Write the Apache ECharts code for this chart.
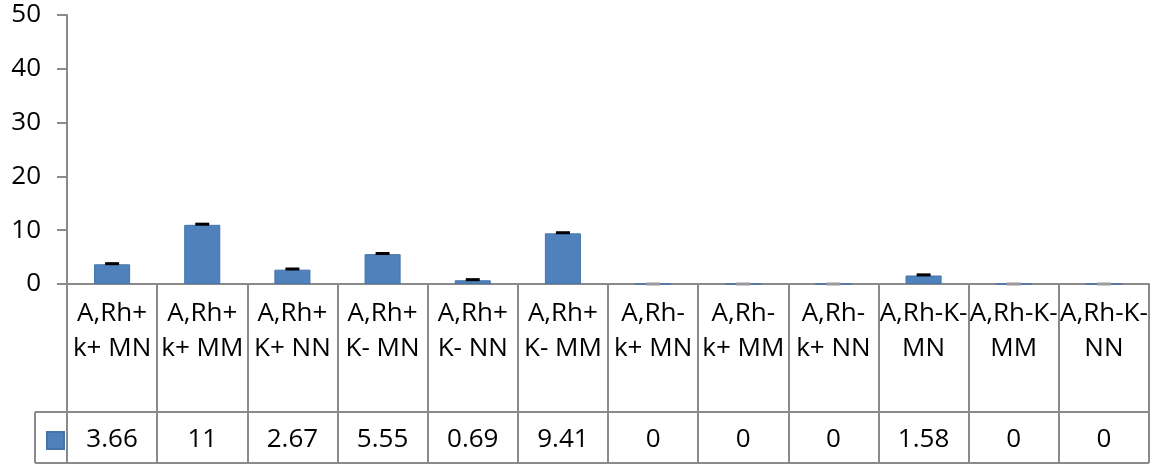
<!DOCTYPE html>
<html>
<head>
<meta charset="utf-8">
<script src="https://cdn.jsdelivr.net/npm/echarts@6/dist/echarts.min.js"></script>
<style>
  html, body { margin: 0; padding: 0; background: #fff; }
  #chart { width: 1156px; height: 465px; }
</style>
</head>
<body>
<div id="chart"></div>
<script>
// Phenotype groups (two-line labels as printed in the table header row)
const categories = [
  'A,Rh+\nk+ MN', 'A,Rh+\nk+ MM', 'A,Rh+\nK+ NN', 'A,Rh+\nK- MN',
  'A,Rh+\nK- NN', 'A,Rh+\nK- MM', 'A,Rh-\nk+ MN', 'A,Rh-\nk+ MM',
  'A,Rh-\nk+ NN', 'A,Rh-K-\nMN', 'A,Rh-K-\nMM', 'A,Rh-K-\nNN'
];
// Percentages per group
const values = [3.66, 11, 2.67, 5.55, 0.69, 9.41, 0, 0, 0, 1.58, 0, 0];
// Error half-widths
const errors = [0.12, 0.12, 0.12, 0.12, 0.12, 0.12, 0, 0, 0, 0.12, 0, 0];
// Value-axis ticks
const yTicks = [0, 10, 20, 30, 40, 50];

const FONT = '"Open Sans", sans-serif';
const FS = 26;
const TEXT = '#000';
const GRID = { left: 67, right: 7, top: 15, bottom: 181 };
const HEADER_H = 128;   // category label row
const VALUE_H = 51;     // data row
const KEY_CELL_W = 32;  // legend-key cell left of the data row
const LINE = '#8a8a8a';

const chart = echarts.init(document.getElementById('chart'));

const W = 1156, H = 465;
const axisY = H - GRID.bottom;
const rowY = axisY + HEADER_H;
const bottomY = rowY + VALUE_H;
const leftX = GRID.left - KEY_CELL_W;
const rightX = W - GRID.right;

chart.setOption({
  animation: false,
  grid: GRID,
  legend: {
    data: ['Series 1'],
    left: leftX + 11,
    top: rowY + 19,
    itemWidth: 17,
    itemHeight: 17,
    icon: 'rect',
    formatter: () => '',
    itemGap: 0,
    padding: 0,
    selectedMode: false
  },
  xAxis: [
    {
      type: 'category',
      data: categories,
      axisLine: { lineStyle: { color: LINE, width: 2 } },
      axisTick: { show: true, length: HEADER_H, lineStyle: { color: LINE, width: 2 } },
      axisLabel: {
        interval: 0, margin: 12, fontFamily: FONT, fontSize: FS,
        lineHeight: 35, color: TEXT
      }
    },
    {
      type: 'category',
      data: values.map(String),
      position: 'bottom',
      offset: HEADER_H,
      axisLine: { lineStyle: { color: LINE, width: 2 } },
      axisTick: { show: true, length: VALUE_H, lineStyle: { color: LINE, width: 2 } },
      axisLabel: {
        interval: 0, margin: 15, fontFamily: FONT, fontSize: FS, color: TEXT
      }
    }
  ],
  yAxis: {
    type: 'value',
    min: yTicks[0],
    max: yTicks[yTicks.length - 1],
    interval: yTicks[1] - yTicks[0],
    splitLine: { show: false },
    axisLine: { show: true, lineStyle: { color: LINE, width: 2 } },
    axisTick: { show: true, length: 10, lineStyle: { color: LINE, width: 2 } },
    axisLabel: { margin: 26, fontFamily: FONT, fontSize: FS, color: TEXT }
  },
  graphic: [
    { type: 'line', shape: { x1: leftX, y1: rowY, x2: GRID.left, y2: rowY },
      style: { stroke: LINE, lineWidth: 2 } },
    { type: 'line', shape: { x1: leftX, y1: bottomY, x2: rightX, y2: bottomY },
      style: { stroke: LINE, lineWidth: 2 } },
    { type: 'line', shape: { x1: leftX, y1: rowY, x2: leftX, y2: bottomY },
      style: { stroke: LINE, lineWidth: 2 } }
  ],
  series: [
    {
      name: 'Series 1',
      type: 'bar',
      data: values,
      barWidth: '40%',
      itemStyle: { color: '#4f81bd', borderColor: '#4674ab', borderWidth: 1 }
    },
    {
      type: 'custom',
      data: values.map((v, i) => [i, v, errors[i]]),
      z: 5,
      renderItem(params, api) {
        const i = api.value(0), v = api.value(1), e = api.value(2);
        const top = api.coord([i, v + e]);
        const bot = api.coord([i, Math.max(0, v - e)]);
        const half = 7;
        const capColor = v > 0 ? '#000' : '#9a9a9a';
        return {
          type: 'group',
          children: [
            { type: 'line', shape: { x1: top[0], y1: top[1], x2: bot[0], y2: bot[1] },
              style: { stroke: capColor, lineWidth: 1.5 } },
            { type: 'line', shape: { x1: top[0] - half, y1: top[1], x2: top[0] + half, y2: top[1] },
              style: { stroke: capColor, lineWidth: 3 } }
          ]
        };
      }
    }
  ]
});
</script>
</body>
</html>
